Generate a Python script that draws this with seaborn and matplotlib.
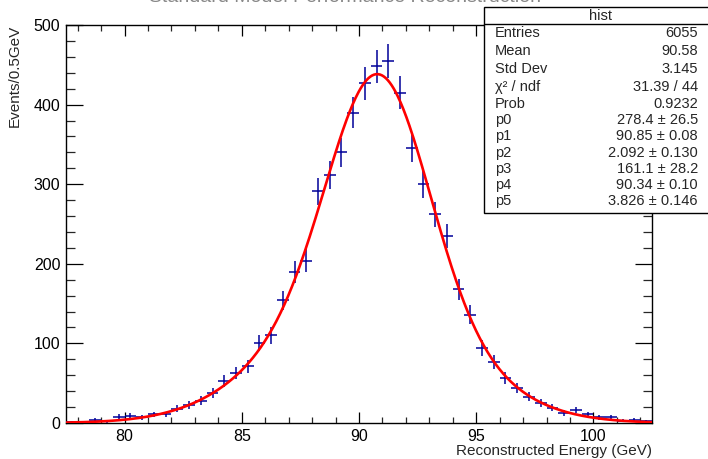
import numpy as np
import pandas as pd
import matplotlib
matplotlib.use("Agg")
import matplotlib.pyplot as plt
import seaborn as sns
from matplotlib.ticker import MultipleLocator
from matplotlib.patches import Rectangle
from matplotlib.lines import Line2D

# ---- data ----
bin_centers = [77.75, 78.25, 78.75, 79.25, 79.75, 80.25, 80.75, 81.25, 81.75, 82.25,
               82.75, 83.25, 83.75, 84.25, 84.75, 85.25, 85.75, 86.25, 86.75, 87.25,
               87.75, 88.25, 88.75, 89.25, 89.75, 90.25, 90.75, 91.25, 91.75, 92.25,
               92.75, 93.25, 93.75, 94.25, 94.75, 95.25, 95.75, 96.25, 96.75, 97.25,
               97.75, 98.25, 98.75, 99.25, 99.75, 100.25, 100.75, 101.25, 101.75, 102.25]
counts = [1, 1, 4, 2, 8, 9, 7, 11, 11, 18,
          23, 28, 38, 53, 63, 71, 100, 110, 154, 190,
          204, 291, 311, 340, 390, 427, 448, 455, 415, 346,
          300, 262, 235, 168, 136, 94, 77, 56, 44, 33,
          25, 19, 13, 16, 11, 7, 7, 3, 4, 2]
bin_width = 0.5

# fit parameters (double gaussian) shown in the stats box
fit_params = [278.4, 90.85, 2.092, 161.1, 90.34, 3.826]

stat_labels = ["Entries", "Mean", "Std Dev", "\u03c7\u00b2 / ndf", "Prob",
               "p0", "p1", "p2", "p3", "p4", "p5"]
stat_values = ["6055", "90.58", "3.145", "31.39 / 44", "0.9232",
               "278.4 \u00b1 26.5", "90.85 \u00b1 0.08", "2.092 \u00b1 0.130",
               "161.1 \u00b1 28.2", "90.34 \u00b1 0.10", "3.826 \u00b1 0.146"]

xlabel = "Reconstructed Energy (GeV)"
ylabel = "Events/0.5GeV"
title = "Standard Model Performance Reconstruction"

# ---- figure ----
sns.set_theme(style="ticks")
plt.rcParams["font.family"] = ["Liberation Sans", "DejaVu Sans"]

W, H = 708, 459
fig = plt.figure(figsize=(W / 100, H / 100), dpi=100)
fig.patch.set_facecolor("white")
L, R, T, B = 66, 652, 25, 423
ax = fig.add_axes([L / W, 1 - B / H, (R - L) / W, (B - T) / H])
ax.set_facecolor("white")

df = pd.DataFrame({"x": bin_centers, "n": counts})
df["err"] = np.sqrt(df["n"])

# fit curve from displayed parameters
p0, p1, p2, p3, p4, p5 = fit_params
xf = np.linspace(77.5, 102.5, 600)
yf = p0 * np.exp(-0.5 * ((xf - p1) / p2) ** 2) + p3 * np.exp(-0.5 * ((xf - p4) / p5) ** 2)
fit_df = pd.DataFrame({"x": xf, "y": yf})

ax.errorbar(df["x"], df["n"], yerr=df["err"], xerr=bin_width / 2, fmt="none",
            ecolor="#000099", elinewidth=1.1, capsize=0, zorder=3)
sns.lineplot(data=fit_df, x="x", y="y", ax=ax, color="#ff0000", linewidth=1.9,
             zorder=4, estimator=None, sort=False)

ax.set_xlim(77.5, 102.5)
ax.set_ylim(0, 500)
ax.set_xlabel("")
ax.set_ylabel("")
ax.xaxis.set_major_locator(MultipleLocator(5))
ax.xaxis.set_minor_locator(MultipleLocator(1))
ax.yaxis.set_major_locator(MultipleLocator(100))
ax.yaxis.set_minor_locator(MultipleLocator(20))

for s in ax.spines.values():
    s.set_visible(True)
    s.set_color("black")
    s.set_linewidth(1.0)

ax.tick_params(axis="x", which="major", direction="in", length=8, width=0.9,
               top=True, bottom=True, labelsize=11.5, pad=4, colors="black")
ax.tick_params(axis="x", which="minor", direction="in", length=4, width=0.9,
               top=True, bottom=True)
ax.tick_params(axis="y", which="major", direction="in", length=12.5, width=0.9,
               left=True, right=True, labelsize=11.5, pad=4, colors="black")
ax.tick_params(axis="y", which="minor", direction="in", length=6.5, width=0.9,
               left=True, right=True)

fig.text(R / W, 1 - 451 / H, xlabel, ha="right", va="center", fontsize=11)
fig.text(15 / W, 1 - T / H, ylabel, ha="center", va="top", rotation=90, fontsize=11)

# title, clipped by the top edge as in the reference
fig.text(345 / W, 1 - 1.5 / H, title, ha="center", va="baseline", fontsize=14,
         color="#888888")

# stats box
bx0, by0, bx1, by1 = 484, 7, 716, 213
fig.add_artist(Rectangle((bx0 / W, 1 - by1 / H), (bx1 - bx0) / W, (by1 - by0) / H,
                         transform=fig.transFigure, facecolor="white",
                         edgecolor="black", linewidth=1.0, zorder=10))
fig.add_artist(Line2D([bx0 / W, bx1 / W], [1 - 24 / H, 1 - 24 / H],
                      transform=fig.transFigure, color="black", linewidth=1.0,
                      zorder=11))
fig.text(600 / W, 1 - 16 / H, "hist", ha="center", va="center", fontsize=10.5,
         zorder=12)
row_y = [33, 51, 69, 87, 104, 120, 136, 153, 169, 185, 201]
for lab, val, yy in zip(stat_labels, stat_values, row_y):
    fig.text(495 / W, 1 - yy / H, lab, ha="left", va="center", fontsize=10.5, zorder=12)
    fig.text(698 / W, 1 - yy / H, val, ha="right", va="center", fontsize=10.5, zorder=12)

fig.savefig("out.png", dpi=100)
